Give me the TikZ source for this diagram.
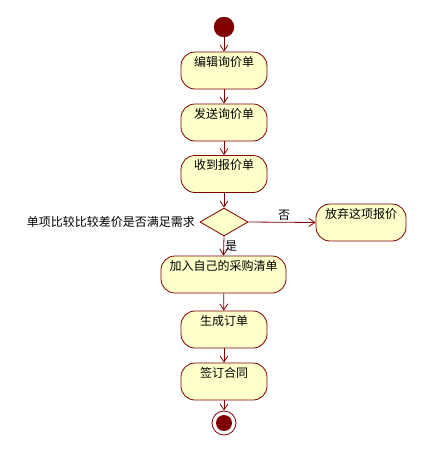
\documentclass[tikz,border=0pt]{standalone}
\usepackage{fontspec}
\newfontfamily\cjk{Noto Sans CJK SC}
\usetikzlibrary{arrows.meta}
\usetikzlibrary{shapes.geometric}
\definecolor{umlred}{RGB}{128,0,0}
\definecolor{umlfill}{RGB}{255,255,204}
\tikzset{
 act/.style={draw=umlred, fill=umlfill, line width=.8pt, rounded corners=14pt,
   minimum width=86pt, minimum height=37pt, inner sep=4pt,
   text height=10pt, text depth=19pt, font=\cjk\fontsize{12pt}{14pt}\selectfont},
 choice/.style={draw=umlred, fill=umlfill, line width=.8pt, diamond, aspect=1.7,
   minimum width=48pt, minimum height=28pt, inner sep=0pt},
 flow/.style={draw=umlred, line width=.8pt, -{Straight Barb[length=6pt,width=8pt]}},
 lbl/.style={font=\cjk\fontsize{12pt}{14pt}\selectfont, inner sep=1pt}
}

\begin{document}
\begin{tikzpicture}[x=1pt,y=-1pt]
\useasboundingbox (0,0) rectangle (429,458);
% start and end
\node[circle, fill=umlred, draw=umlred, minimum size=20pt, inner sep=0] (start) at (224,27) {};
\node[circle, fill=white, draw=umlred, line width=.8pt, minimum size=24pt, inner sep=0] (stop) at (224,423) {};
\fill[umlred] (stop.center) circle (8pt);
% activities
\node[act] (edit) at (224,70.5) {编辑询价单};
\node[act] (send) at (224,122.5) {发送询价单};
\node[act] (recv) at (224,174) {收到报价单};
\node[choice] (check) at (224,222) {};
\node[lbl, anchor=east] (cond) at (196,222) {单项比较比较差价是否满足需求};
\node[act, minimum width=90pt] (drop) at (361,222.5) {放弃这项报价};
\node[act, minimum width=125pt] (add) at (223.5,274.5) {加入自己的采购清单};
\node[act] (order) at (224,329.5) {生成订单};
\node[act] (sign) at (224,381.5) {签订合同};
% flows
\draw[flow] (start) -- (edit);
\draw[flow] (edit) -- (send);
\draw[flow] (send) -- (recv);
\draw[flow] (recv) -- (check);
\draw[flow] (check.east) -- (drop.west) node[lbl, midway, above, xshift=2pt] (no) {否};
\draw[flow] (check.south) -- (add.north) node[lbl, midway, right] (yes) {是};
\draw[flow] (add) -- (order);
\draw[flow] (order) -- (sign);
\draw[flow] (sign) -- (stop);
\end{tikzpicture}
\end{document}
